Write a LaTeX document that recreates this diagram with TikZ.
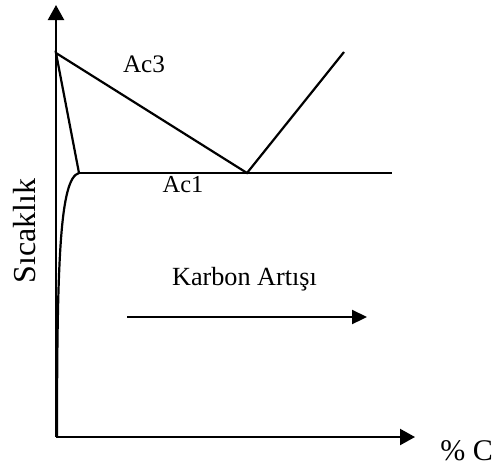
\documentclass[tikz,border=0pt]{standalone}
\usepackage{fontspec}
\setmainfont{Liberation Serif}
\usepackage{tikz}
\usetikzlibrary{
	arrows.meta,
	calc
}

\begin{document}
\begin{tikzpicture}[x=0.5pt, y=-0.5pt,
		eksen/.style={line width=1.1pt, -{Triangle[length=7.5pt, width=8pt]}},
		cizgi/.style={line width=1.1pt, line join=miter},
		etiket/.style={font=\fontsize{12.6}{15}\selectfont, inner sep=0pt, anchor=base}]
		\useasboundingbox (0,0) rectangle (496,466);
		% noktalar
		\coordinate (O) at (56,437);
		\coordinate (Yuc) at (56,5);
		\coordinate (Xuc) at (415,437);
		\coordinate (A) at (56,53);
		\coordinate (B) at (79,173);
		\coordinate (E) at (247,173);
		\coordinate (R) at (392,173);
		\coordinate (U) at (344,52);
		% eksenler
		\draw[eksen] (O) -- (Yuc);
		\draw[eksen] (O) -- (Xuc);
		% Ac3 ve Acm
		\draw[cizgi] (B) -- (A) -- (E) -- (U);
		% Ac1
		\draw[cizgi] (B) -- (R);
		% sol egri
		\draw[cizgi] (B) .. controls (60,178) and (57,260) .. (57,437);
		% yazilar
		\node[etiket] (ac3) at (144,72) {Ac3};
		\node[etiket, font=\fontsize{12.2}{15}\selectfont] (ac1) at (183,192) {Ac1};
		\node[etiket, font=\fontsize{13.1}{16}\selectfont] (kar) at (244.5,285) {Karbon Artışı};
		\node[etiket, font=\fontsize{15}{18}\selectfont] (yc) at (466.5,460) {\% C};
		\node[etiket, rotate=90, font=\fontsize{16}{19}\selectfont] (sic) at (35,231) {Sıcaklık};
		% karbon oku
		\coordinate (k1) at (127,317);
		\coordinate (k2) at (367,317);
		\draw[line width=1.1pt, -{Triangle[length=7.5pt, width=7pt]}] (k1) -- (k2);
	\end{tikzpicture}
\end{document}
